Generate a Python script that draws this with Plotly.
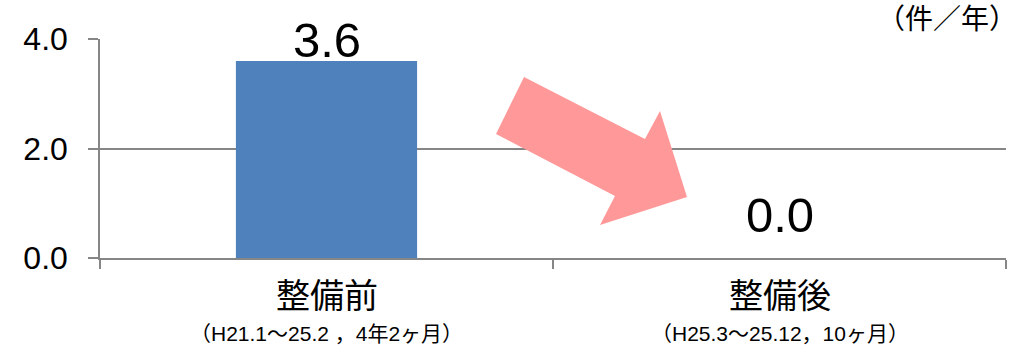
import plotly.graph_objects as go

categories = ["整備前", "整備後"]
periods = ["（H21.1～25.2 ，4年2ヶ月）", "（H25.3～25.12，10ヶ月）"]
values = [3.6, 0.0]
value_labels = ["3.6", "0.0"]
label_shift = [21, 43]
y_ticks = [0, 2, 4]
y_tick_text = ["0.0", "2.0", "4.0"]
unit_text = "（件／年）"

FONT = "Liberation Sans, Arial, Noto Sans CJK JP, sans-serif"
GRID = "#868686"

fig = go.Figure()
fig.add_trace(go.Bar(
    x=categories, y=values, width=0.4,
    marker=dict(color="#4F81BD", line=dict(width=0)),
    hoverinfo="skip", showlegend=False,
))

annotations = []
for c, v, t, s in zip(categories, values, value_labels, label_shift):
    annotations.append(dict(x=c, y=v, xref="x", yref="y", text=t, showarrow=False,
                            yshift=s, yanchor="middle",
                            font=dict(family=FONT, size=49, color="black")))
for c, p in zip(categories, periods):
    annotations.append(dict(x=c, y=0, xref="x", yref="paper", text=c, showarrow=False,
                            yshift=-38, yanchor="middle",
                            font=dict(family=FONT, size=34, color="black")))
    annotations.append(dict(x=c, y=0, xref="x", yref="paper", text=p, showarrow=False,
                            yshift=-75, yanchor="middle",
                            font=dict(family=FONT, size=21, color="black")))
annotations.append(dict(x=1.0, y=1.0, xref="paper", yref="paper", text=unit_text,
                        showarrow=False, xanchor="right", yanchor="middle", yshift=20, xshift=13,
                        font=dict(family=FONT, size=28, color="black")))

# arrow decoration (paper coordinates)
pts = [(0.4680, 0.8265), (0.6015, 0.5434), (0.6181, 0.6712), (0.6479, 0.2785),
       (0.5519, 0.1507), (0.5684, 0.2831), (0.4371, 0.5662)]
path = "M " + " L ".join(f"{x},{y}" for x, y in pts) + " Z"

fig.update_layout(
    width=1026, height=350,
    margin=dict(l=100, r=20, t=39, b=92),
    plot_bgcolor="white", paper_bgcolor="white",
    bargap=0.6,
    annotations=annotations,
    shapes=[dict(type="path", xref="paper", yref="paper", path=path,
                 fillcolor="#FF9999", line=dict(width=0), layer="above")],
    xaxis=dict(type="category", tickson="boundaries", ticks="outside", ticklen=9,
               tickcolor=GRID, tickwidth=1.5, showticklabels=False, automargin=False,
               showline=True, linecolor=GRID, linewidth=1.5, showgrid=False,
               range=[-0.5, 1.5], fixedrange=True),
    yaxis=dict(range=[0, 4], tickvals=y_ticks, ticktext=y_tick_text, automargin=False,
               ticks="outside", ticklen=10, tickcolor=GRID, tickwidth=1.5,
               showline=True, linecolor=GRID, linewidth=1.5,
               showgrid=True, gridcolor=GRID, gridwidth=1.5, zeroline=False,
               tickfont=dict(family=FONT, size=32, color="black"),
               ticklabelstandoff=14),
)

fig.write_html("out.html", config={"displayModeBar": False},
               post_script="document.body.style.margin='0';document.body.style.overflow='hidden';")
